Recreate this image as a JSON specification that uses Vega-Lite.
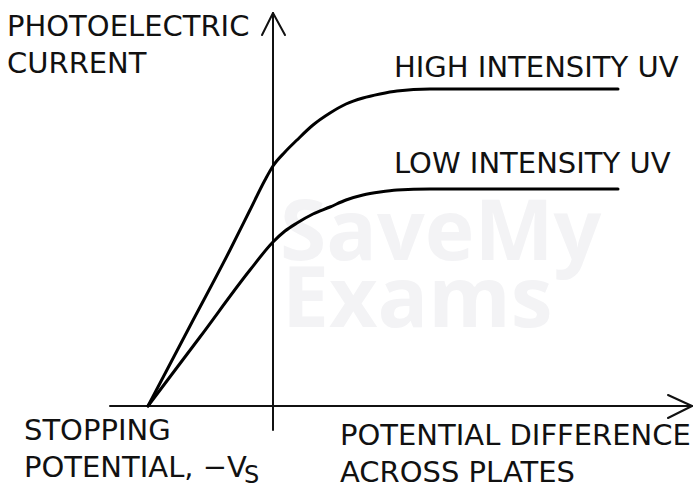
{
  "$schema": "https://vega.github.io/schema/vega-lite/v6.json",
  "width": 697,
  "height": 493,
  "padding": 0,
  "autosize": {"type": "fit", "contains": "padding"},
  "background": "white",
  "config": {"view": {"stroke": null}},
  "datasets": {
    "curves": [
      {"series": "High intensity UV", "o": 1, "V": -1, "I": 0},
      {"series": "High intensity UV", "o": 2, "V": -0.664, "I": 0.80},
      {"series": "High intensity UV", "o": 3, "V": -0.344, "I": 1.56},
      {"series": "High intensity UV", "o": 4, "V": -0.184, "I": 1.96},
      {"series": "High intensity UV", "o": 5, "V": -0.064, "I": 2.26},
      {"series": "High intensity UV", "o": 6, "V": 0, "I": 2.40},
      {"series": "High intensity UV", "o": 7, "V": 0.096, "I": 2.54},
      {"series": "High intensity UV", "o": 8, "V": 0.192, "I": 2.66},
      {"series": "High intensity UV", "o": 9, "V": 0.32, "I": 2.81},
      {"series": "High intensity UV", "o": 10, "V": 0.456, "I": 2.93},
      {"series": "High intensity UV", "o": 11, "V": 0.584, "I": 3.02},
      {"series": "High intensity UV", "o": 12, "V": 0.72, "I": 3.08},
      {"series": "High intensity UV", "o": 13, "V": 0.856, "I": 3.12},
      {"series": "High intensity UV", "o": 14, "V": 0.992, "I": 3.15},
      {"series": "High intensity UV", "o": 15, "V": 1.256, "I": 3.17},
      {"series": "High intensity UV", "o": 16, "V": 2.76, "I": 3.17},
      {"series": "Low intensity UV", "o": 1, "V": -1, "I": 0},
      {"series": "Low intensity UV", "o": 2, "V": -0.584, "I": 0.69},
      {"series": "Low intensity UV", "o": 3, "V": -0.184, "I": 1.36},
      {"series": "Low intensity UV", "o": 4, "V": 0, "I": 1.64},
      {"series": "Low intensity UV", "o": 5, "V": 0.096, "I": 1.75},
      {"series": "Low intensity UV", "o": 6, "V": 0.192, "I": 1.83},
      {"series": "Low intensity UV", "o": 7, "V": 0.32, "I": 1.92},
      {"series": "Low intensity UV", "o": 8, "V": 0.456, "I": 1.99},
      {"series": "Low intensity UV", "o": 9, "V": 0.584, "I": 2.06},
      {"series": "Low intensity UV", "o": 10, "V": 0.72, "I": 2.11},
      {"series": "Low intensity UV", "o": 11, "V": 0.856, "I": 2.14},
      {"series": "Low intensity UV", "o": 12, "V": 0.992, "I": 2.16},
      {"series": "Low intensity UV", "o": 13, "V": 1.256, "I": 2.17},
      {"series": "Low intensity UV", "o": 14, "V": 2.76, "I": 2.17}
    ],
    "axes": [
      {"g": "current axis", "o": 1, "V": 0, "I": -0.24},
      {"g": "current axis", "o": 2, "V": 0, "I": 3.93},
      {"g": "current arrow", "o": 1, "V": -0.088, "I": 3.71},
      {"g": "current arrow", "o": 2, "V": 0, "I": 3.93},
      {"g": "current arrow", "o": 3, "V": 0.096, "I": 3.71},
      {"g": "pd axis", "o": 1, "V": -1.304, "I": 0},
      {"g": "pd axis", "o": 2, "V": 3.352, "I": 0},
      {"g": "pd arrow", "o": 1, "V": 3.16, "I": 0.11},
      {"g": "pd arrow", "o": 2, "V": 3.352, "I": 0},
      {"g": "pd arrow", "o": 3, "V": 3.16, "I": -0.12}
    ],
    "labels": [
      {"label": "PHOTOELECTRIC", "V": -2.128, "I": 3.70},
      {"label": "CURRENT", "V": -2.128, "I": 3.33},
      {"label": "HIGH INTENSITY UV", "V": 0.968, "I": 3.29},
      {"label": "LOW INTENSITY UV", "V": 0.968, "I": 2.33},
      {"label": "STOPPING", "V": -1.992, "I": -0.34},
      {"label": "POTENTIAL, −V", "V": -1.992, "I": -0.71},
      {"label": "POTENTIAL DIFFERENCE", "V": 0.536, "I": -0.39},
      {"label": "ACROSS PLATES", "V": 0.536, "I": -0.76}
    ],
    "sub": [
      {"label": "S", "V": -0.232, "I": -0.77}
    ],
    "mark": [
      {"label": "SaveMy", "V": 0.056, "I": 1.46},
      {"label": "Exams", "V": 0.072, "I": 0.79}
    ]
  },
  "encoding": {
    "x": {"field": "V", "type": "quantitative", "axis": null,
          "scale": {"domain": [-2.184, 3.392], "nice": false, "zero": false}},
    "y": {"field": "I", "type": "quantitative", "axis": null,
          "scale": {"domain": [-0.87, 4.06], "nice": false, "zero": false}}
  },
  "layer": [
    {
      "data": {"name": "mark"},
      "mark": {"type": "text", "align": "left", "baseline": "alphabetic",
               "font": "Open Sans", "fontWeight": "bold", "fontSize": 84, "color": "#f3f3f5"},
      "encoding": {"text": {"field": "label"}}
    },
    {
      "data": {"name": "axes"},
      "mark": {"type": "line", "color": "#111111", "strokeWidth": 2, "strokeCap": "round", "strokeJoin": "round"},
      "encoding": {"detail": {"field": "g"}, "order": {"field": "o"}}
    },
    {
      "data": {"name": "curves"},
      "mark": {"type": "line", "color": "#000000", "strokeWidth": 3, "interpolate": "monotone", "strokeCap": "round"},
      "encoding": {"detail": {"field": "series"}, "order": {"field": "o"}}
    },
    {
      "data": {"name": "labels"},
      "mark": {"type": "text", "align": "left", "baseline": "alphabetic",
               "font": "DejaVu Sans", "fontSize": 29, "color": "#111111"},
      "encoding": {"text": {"field": "label"}}
    },
    {
      "data": {"name": "sub"},
      "mark": {"type": "text", "align": "left", "baseline": "alphabetic",
               "font": "DejaVu Sans", "fontSize": 24, "color": "#111111"},
      "encoding": {"text": {"field": "label"}}
    }
  ]
}
